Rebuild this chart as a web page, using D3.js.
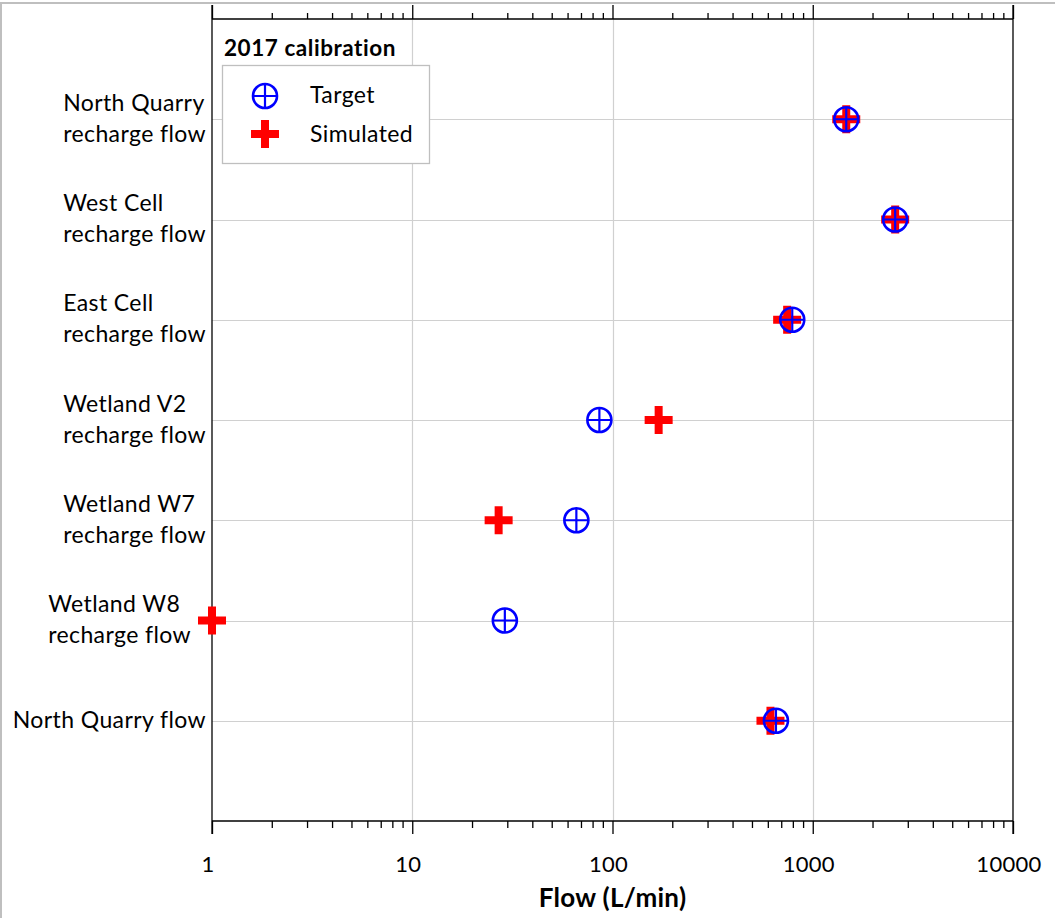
<!DOCTYPE html>
<html>
<head>
<meta charset="utf-8">
<script src="https://cdn.jsdelivr.net/npm/d3@7"></script>
<style>
  html, body { margin: 0; padding: 0; background: #fff; }
  svg { display: block; font-family: Lato, "Open Sans", sans-serif; }
</style>
</head>
<body>
<svg id="chart" width="1055" height="918"></svg>
<script>
// ---- data ----
const categories = [
  ["North Quarry", "recharge flow"],
  ["West Cell", "recharge flow"],
  ["East Cell", "recharge flow"],
  ["Wetland V2", "recharge flow"],
  ["Wetland W7", "recharge flow"],
  ["Wetland W8", "recharge flow"],
  ["North Quarry flow"]
];
const targetValues    = [1470, 2580, 790, 86, 66, 29, 655];
const simulatedValues = [1470, 2580, 745, 170, 27, 1, 615];
const xTickValues = [1, 10, 100, 1000, 10000];
const legendTitle = "2017 calibration";
const seriesNames = ["Target", "Simulated"];
const xAxisTitle = "Flow (L/min)";

// ---- layout ----
const svg = d3.select("#chart");
const W = 1055, H = 918;
const plot = { left: 212, right: 1013, top: 19, bottom: 821 };

const x = d3.scaleLog().domain([1, 10000]).range([plot.left, plot.right]);
const y = d3.scalePoint()
  .domain(d3.range(categories.length))
  .range([plot.top, plot.bottom])
  .padding(1);

const gridColor = "#d0d0d0";
const frameColor = "#bfbfbf";

// outer frame (top + left)
svg.append("line").attr("x1", 0).attr("x2", W).attr("y1", 3).attr("y2", 3)
  .attr("stroke", frameColor).attr("stroke-width", 2);
svg.append("line").attr("x1", 1).attr("x2", 1).attr("y1", 3).attr("y2", H)
  .attr("stroke", frameColor).attr("stroke-width", 2);

// vertical gridlines at majors (inner)
svg.append("g").selectAll("line")
  .data(xTickValues.slice(1, -1))
  .join("line")
  .attr("x1", d => Math.round(x(d)) + 0.5).attr("x2", d => Math.round(x(d)) + 0.5)
  .attr("y1", plot.top).attr("y2", plot.bottom)
  .attr("stroke", gridColor).attr("stroke-width", 1.2);

// horizontal gridlines at categories
svg.append("g").selectAll("line")
  .data(d3.range(categories.length))
  .join("line")
  .attr("x1", plot.left).attr("x2", plot.right)
  .attr("y1", d => Math.round(y(d)) + 0.5).attr("y2", d => Math.round(y(d)) + 0.5)
  .attr("stroke", gridColor).attr("stroke-width", 1.2);

// minor tick values
const minorTicks = [];
for (let e = 0; e < 4; e++) for (let m = 2; m <= 9; m++) minorTicks.push(m * Math.pow(10, e));

// bottom axis
const axisBottom = d3.axisBottom(x).tickValues(xTickValues).tickSize(13).tickFormat("");
const gB = svg.append("g").attr("transform", `translate(0,${plot.bottom})`).call(axisBottom);
gB.select(".domain").attr("d", `M${plot.left},0H${plot.right}`);
gB.append("g").selectAll("line").data(minorTicks).join("line")
  .attr("x1", d => x(d)).attr("x2", d => x(d)).attr("y1", 0).attr("y2", 7)
  .attr("stroke", "#000");
gB.selectAll("path, line").attr("stroke", "#000").attr("stroke-width", 1.3);

// tick labels
svg.append("g").selectAll("text")
  .data(xTickValues)
  .join("text")
  .attr("x", d => x(d) - 4)
  .attr("y", 872)
  .attr("text-anchor", "middle")
  .attr("font-size", 22)
  .attr("letter-spacing", 0.3)
  .attr("fill", "#000")
  .text(d => d3.format("d")(d));

// top axis
const axisTop = d3.axisTop(x).tickValues(xTickValues).tickSize(14).tickFormat("");
const gT = svg.append("g").attr("transform", `translate(0,${plot.top})`).call(axisTop);
gT.select(".domain").attr("d", `M${plot.left},0H${plot.right}`);
gT.append("g").selectAll("line").data(minorTicks).join("line")
  .attr("x1", d => x(d)).attr("x2", d => x(d)).attr("y1", 0).attr("y2", -6)
  .attr("stroke", "#000");
gT.selectAll("path, line").attr("stroke", "#000").attr("stroke-width", 1.3);

// left / right axis lines
[plot.left, plot.right].forEach(px => {
  svg.append("line").attr("x1", px).attr("x2", px)
    .attr("y1", plot.top - 14).attr("y2", plot.bottom + 13)
    .attr("stroke", "#000").attr("stroke-width", 1.3);
});

// axis title
svg.append("text")
  .attr("x", (plot.left + plot.right) / 2)
  .attr("y", 907)
  .attr("text-anchor", "middle")
  .attr("font-size", 26)
  .attr("letter-spacing", 0.3)
  .attr("font-weight", "bold")
  .attr("fill", "#000")
  .text(xAxisTitle);

// category labels: block left-aligned, right edge next to the axis
const labelFont = 23;
const labelSpacing = 0.4;
const lineGap = 31;
const measure = svg.append("text").attr("font-size", labelFont)
  .attr("letter-spacing", labelSpacing).attr("visibility", "hidden");
categories.forEach((lines, i) => {
  const widths = lines.map(t => { measure.text(t); return measure.node().getComputedTextLength(); });
  const blockW = d3.max(widths);
  // a marker sitting on the axis pushes the label further left
  const onEdge = Math.min(targetValues[i], simulatedValues[i]) <= x.domain()[0];
  const rightEdge = onEdge ? plot.left - 21 : plot.left - 6;
  const x0 = rightEdge - blockW;
  const cy = y(i);
  const startY = cy - (lines.length - 1) * lineGap / 2;
  const t = svg.append("text").attr("font-size", labelFont)
    .attr("letter-spacing", labelSpacing).attr("fill", "#000");
  lines.forEach((ln, k) => {
    t.append("tspan").attr("x", x0).attr("y", startY + k * lineGap + 7).text(ln);
  });
});
measure.remove();

// marker drawers
function drawPlus(g, cx, cy) {
  const L = 14, T = 4;
  g.append("path")
    .attr("d", `M${cx - L},${cy - T}H${cx - T}V${cy - L}H${cx + T}V${cy - T}H${cx + L}V${cy + T}H${cx + T}V${cy + L}H${cx - T}V${cy + T}H${cx - L}Z`)
    .attr("fill", "#ff0000");
}
function drawTarget(g, cx, cy) {
  const r = 12;
  g.append("circle").attr("cx", cx).attr("cy", cy).attr("r", r)
    .attr("fill", "none").attr("stroke", "#0000ff").attr("stroke-width", 2.6);
  g.append("path")
    .attr("d", `M${cx - r},${cy}H${cx + r}M${cx},${cy - r}V${cy + r}`)
    .attr("stroke", "#0000ff").attr("stroke-width", 2.2);
}

// series: simulated underneath, target on top
const gSim = svg.append("g");
simulatedValues.forEach((v, i) => drawPlus(gSim, x(v), y(i)));
const gTar = svg.append("g");
targetValues.forEach((v, i) => drawTarget(gTar, x(v), y(i)));

// legend
svg.append("text")
  .attr("x", 224).attr("y", 56)
  .attr("font-size", 22.5).attr("letter-spacing", 0.55)
  .attr("font-weight", "bold").attr("fill", "#000")
  .text(legendTitle);
svg.append("rect")
  .attr("x", 222.5).attr("y", 65.5).attr("width", 207).attr("height", 98)
  .attr("fill", "#fff").attr("stroke", frameColor).attr("stroke-width", 1.3);
const lg = svg.append("g");
drawTarget(lg, 265, 96);
drawPlus(lg, 265, 134);
lg.append("text").attr("x", 310).attr("y", 103).attr("font-size", labelFont)
  .attr("letter-spacing", labelSpacing).attr("fill", "#000").text(seriesNames[0]);
lg.append("text").attr("x", 310).attr("y", 142).attr("font-size", labelFont)
  .attr("letter-spacing", labelSpacing).attr("fill", "#000").text(seriesNames[1]);
</script>
</body>
</html>
